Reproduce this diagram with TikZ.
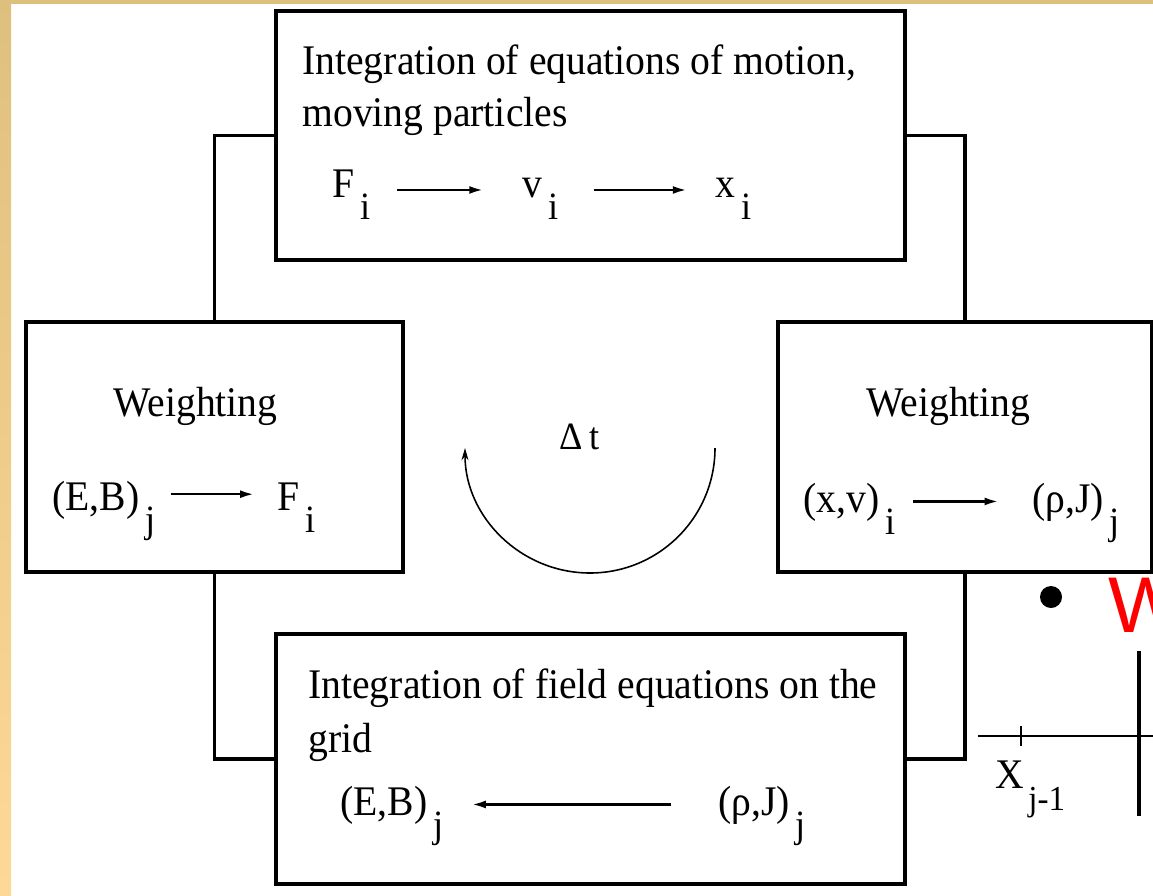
\documentclass[tikz,border=0pt]{standalone}
\usepackage{fontspec}
\setmainfont{Liberation Serif}[FakeStretch=0.94]
\newfontfamily\sansfont{Liberation Sans}
\usetikzlibrary{arrows.meta}
\definecolor{stripTop}{RGB}{222,192,126}
\definecolor{stripBot}{RGB}{254,216,150}
\newcommand{\dsub}[1]{\hspace{0.14em}\raisebox{-13pt}{\fontsize{22}{22}\selectfont #1}}
\begin{document}
\begin{tikzpicture}[x=0.02cm,y=-0.02cm,
  box/.style={draw,line width=1.8pt,inner sep=0pt},
  wire/.style={line width=1.8pt},
  lbl/.style={anchor=base west,inner sep=0pt,font=\fontsize{24}{29}\selectfont},
  flow/.style={line width=1.4pt,-{Latex[length=8pt,width=4.5pt]}}]
  \useasboundingbox (0,0) rectangle (1153,896);
  \clip (0,0) rectangle (1153,896);
  \shade[top color=stripTop,bottom color=stripBot] (0,0) rectangle (11,896);
  \fill[stripTop] (0,0) rectangle (1153,4);
  % the four stages
  \node[box,minimum width=12.58cm,minimum height=4.98cm] (motion) at (590.5,135.5) {};
  \node[box,minimum width=7.54cm,minimum height=5cm] (wleft) at (214.5,447) {};
  \node[box,minimum width=7.48cm,minimum height=5cm] (wright) at (965,447) {};
  \node[box,minimum width=12.58cm,minimum height=5cm] (field) at (590.5,759) {};
  \draw[wire] (motion.west) -| (wleft.north);
  \draw[wire] (wleft.south) |- (field.west);
  \draw[wire] (motion.east) -| (wright.north);
  \draw[wire] (wright.south) |- (field.east);
  % particle push
  \node[lbl] (motiona) at (302,74) {Integration of equations of motion,};
  \node[lbl] (motionb) at (302,126) {moving particles};
  \node[lbl] (fi) at (332,197) {F\dsub{i}};
  \node[lbl] (vi) at (522,197) {v\dsub{i}};
  \node[lbl] (xi) at (715,197) {x\dsub{i}};
  \draw[flow,shorten <=15pt,shorten >=22pt] ([yshift=4pt]fi.base east) -- ([yshift=4pt]vi.base west);
  \draw[flow,shorten <=20pt,shorten >=16pt] ([yshift=4pt]vi.base east) -- ([yshift=4pt]xi.base west);
  % weighting to particles
  \node[lbl] (wlefta) at (113,416) {Weighting};
  \node[lbl] (ebl) at (52,510) {(E,B)\dsub{j}};
  \node[lbl] (fl) at (277,510) {F\dsub{i}};
  \draw[flow,shorten <=9pt,shorten >=13pt] ([yshift=9pt]ebl.base east) -- ([yshift=9pt]fl.base west);
  % weighting to grid
  \node[lbl] (wrighta) at (866,416) {Weighting};
  \node[lbl] (xv) at (803,512) {(x,v)\dsub{i}};
  \node[lbl] (rjr) at (1032,512) {(ρ,J)\dsub{j}};
  \draw[flow,shorten <=10pt,shorten >=19pt] ([yshift=6pt]xv.base east) -- ([yshift=6pt]rjr.base west);
  % field solve
  \node[lbl] (fielda) at (308,698) {Integration of field equations on the};
  \node[lbl] (fieldb) at (308,752) {grid};
  \node[lbl] (ebb) at (340,815) {(E,B)\dsub{j}};
  \node[lbl] (rjb) at (718,815) {(ρ,J)\dsub{j}};
  \draw[flow,shorten <=27pt,shorten >=16pt] ([yshift=6pt]rjb.base west) -- ([yshift=6pt]ebb.base east);
  % time step
  \node[anchor=base west,inner sep=0pt,font=\fontsize{22}{22}\selectfont] (dt) at (559,449) {Δ\,t};
  \draw[line width=0.9pt,-{Stealth[length=7pt,width=4pt]}] (715,448) arc[start angle=0,end angle=180,radius=125];
  % next slide content, cut off
  \fill (1051,597) circle[radius=11];
  \node[anchor=base west,inner sep=0pt,text=red,font=\sansfont\fontsize{45}{45}\selectfont] (wtitle) at (1108,632) {W};
  \draw[line width=1.4pt] (978,736) -- (1153,736);
  \draw[line width=1.4pt] (1021,726) -- (1021,746);
  \draw[line width=2.2pt] (1139,651) -- (1139,816);
  \node[lbl] (xlab) at (995,788) {X};
  \node[anchor=base west,inner sep=0pt,font=\fontsize{20}{20}\selectfont] (xsub) at (1028,810) {j-1};
\end{tikzpicture}
\end{document}
